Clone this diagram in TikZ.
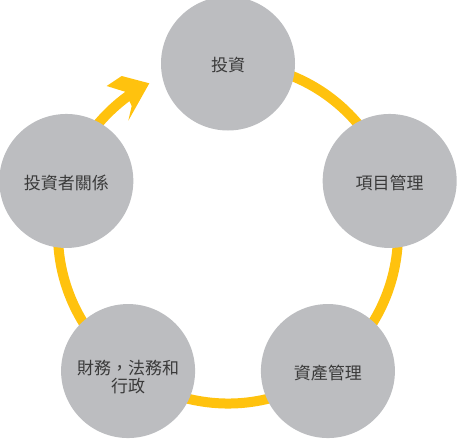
\documentclass[tikz,border=0pt]{standalone}
\usepackage{fontspec}
\newfontfamily\cjk{Noto Sans CJK TC}
\definecolor{ringyellow}{HTML}{FFC20E}
\definecolor{discgrey}{HTML}{BCBDC0}
\definecolor{txtgrey}{HTML}{3A3A3A}
\newcommand\discl[2][2pt]{\raisebox{-#1}[\height][\depth]{#2}}
\begin{document}
\begin{tikzpicture}[x=1pt,y=1pt,
  disc/.style={circle, fill=discgrey, minimum size=134pt, inner sep=0pt,
    font=\cjk\fontsize{17}{20}\selectfont, text=txtgrey, align=center},
  ring/.style={draw=ringyellow, line width=10pt},
  headfill/.style={fill=ringyellow}]
\useasboundingbox (0,0) rectangle (457,-439);
\coordinate (ctr) at (228,-233.5);
% ring (cycle connector) with arrow head
\draw[ring] ([shift={(80:170)}]ctr) arc[start angle=80, end angle=-236, radius=170];
\coordinate (tip) at (149.3,-83.3);
\fill[headfill] (106.7,-86) -- (121.7,-76) -- (tip) -- (128.3,-120.7) -- (131.7,-106) -- (125,-91.7) -- cycle;
% discs
\node[disc] (inv) at ([shift={(90:170)}]ctr) {\discl{投資}};
\node[disc] (pm)  at ([shift={(18:170)}]ctr) {\discl{項目管理}};
\node[disc] (am)  at ([shift={(-54:170)}]ctr) {\discl{資產管理}};
\node[disc] (fin) at ([shift={(234:170)}]ctr) {\discl[6pt]{\shortstack{財務，法務和\\[-1pt]行政}}};
\node[disc] (ir)  at ([shift={(162:170)}]ctr) {\discl{投資者關係}};
\end{tikzpicture}
\end{document}
